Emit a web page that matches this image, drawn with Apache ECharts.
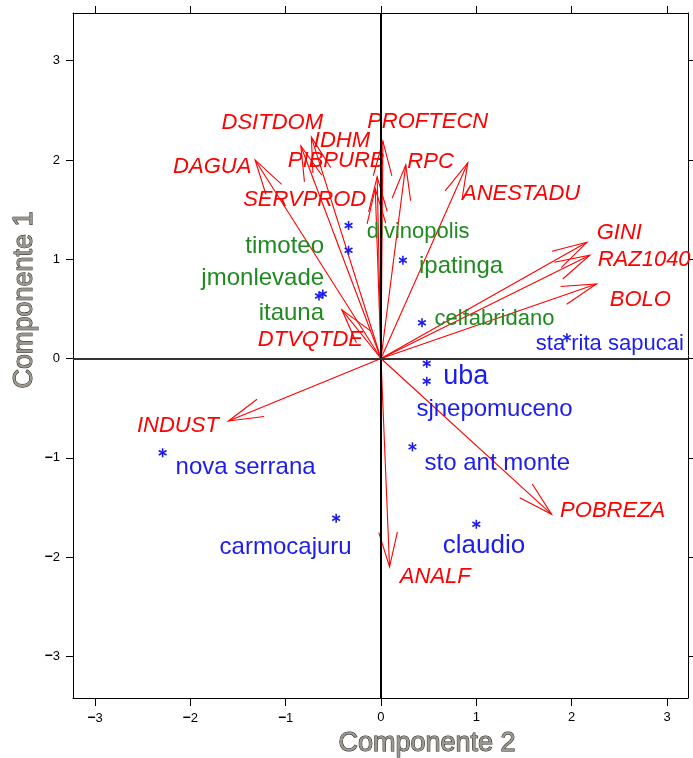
<!DOCTYPE html>
<html><head><meta charset="utf-8">
<script src="https://cdn.jsdelivr.net/npm/echarts@6/dist/echarts.min.js"></script>
<style>html,body{margin:0;padding:0;background:#fff}#c{width:693px;height:758px}</style>
</head><body><div id="c"></div>
<script>
// ---- variables (loadings, red arrows) ----
const varNames  = ['DSITDOM','IDHM','PROFTECN','PIBPURB','SERVPROD','RPC','DAGUA','ANESTADU','GINI','RAZ1040','BOLO','DTVQTDE','INDUST','POBREZA','ANALF'];
const varX      = [-0.84, -0.73, 0.02, -0.04, -0.06, 0.26, -1.32, 0.91, 2.16, 2.19, 2.26, -0.41, -1.60, 1.79, 0.09];
const varY      = [ 2.14,  2.23, 2.19,  1.83,  1.71, 1.95,  2.00, 1.97, 1.17, 1.04, 0.75,  0.49, -0.63, -1.57, -2.10];
const varLabelX = [-1.14, -0.41, 0.49, -0.47, -0.80, 0.52, -1.77, 1.47, 2.50, 2.76, 2.72, -0.74, -2.13, 2.43, 0.57];
const varLabelY = [ 2.37,  2.19, 2.38,  1.99,  1.60, 1.98,  1.93, 1.66, 1.27, 0.99, 0.59,  0.19, -0.68, -1.54, -2.20];

// ---- observations (blue asterisks) ----
const obsX = [-0.34, -0.34, 0.23, -0.65, -0.61, 0.43, 1.95, 0.48, 0.48, 0.33, 1.00, -2.29, -0.47];
const obsY = [ 1.34,  1.09, 0.99,  0.63,  0.65, 0.36, 0.21, -0.05, -0.23, -0.89, -1.67, -0.95, -1.61];

// ---- observation labels ----
const cityNames  = ['divinopolis','timoteo','jmonlevade','itauna','ipatinga','celfabridano','sta rita sapucai','uba','sjnepomuceno','sto ant monte','claudio','nova serrana','carmocajuru'];
const cityLabelX = [0.39, -1.01, -1.24, -0.94, 0.84, 1.19, 2.40, 0.89, 1.19, 1.22, 1.08, -1.42, -1.00];
const cityLabelY = [1.27,  1.13,  0.81,  0.45, 0.93, 0.40, 0.15, -0.18, -0.51, -1.06, -1.89, -1.10, -1.90];
const cityGroup  = ['g','g','g','g','g','g','b','b','b','b','b','b','b'];

const tickValues = [-3, -2, -1, 0, 1, 2, 3];

// ---- styles ----
const FONT = '"Liberation Sans", Arial, Helvetica, sans-serif';
const RED = '#ff0000', BLUE = '#1c1cf0', GREEN = '#1f8a1f';
const citySize = {'divinopolis':22,'celfabridano':22,'sta rita sapucai':22,'uba':27,'claudio':26};

const chart = echarts.init(document.getElementById('c'), null, {renderer:'canvas'});

function fmt(v){ return v < 0 ? '{m|\u2212}{d|' + Math.abs(v) + '}' : '{d|' + v + '}'; }
const labRich = { m:{fontSize:14, fontWeight:'bold', fontFamily:FONT, color:'#000'}, d:{fontSize:13, fontFamily:FONT, color:'#000'} };

function axisCommon(showLabels){
  return {
    type:'value', min:null, max:null,
    axisLine:{show:true, onZero:false, lineStyle:{color:'#000', width:1}},
    axisTick:{show:true, inside:false, length:7, customValues:tickValues, lineStyle:{color:'#000', width:1}},
    axisLabel:{show:showLabels, customValues:tickValues, formatter:fmt, rich:labRich, margin:13},
    splitLine:{show:false}
  };
}
const xMin = -3.23, xMax = 3.22, yMin = -3.42, yMax = 3.48;
const xb = Object.assign(axisCommon(true), {position:'bottom', min:xMin, max:xMax});
const xt = Object.assign(axisCommon(false), {position:'top', min:xMin, max:xMax});
const yl = Object.assign(axisCommon(true), {position:'left', min:yMin, max:yMax});
const yr = Object.assign(axisCommon(false), {position:'right', min:yMin, max:yMax});
xb.axisTick.length = 8;

const arrowData = varX.map((x,i)=>[x, varY[i]]);
const varLabelData = varNames.map((n,i)=>[varLabelX[i], varLabelY[i], n]);
const obsData = obsX.map((x,i)=>[x, obsY[i]]);
const cityData = cityNames.map((n,i)=>[cityLabelX[i], cityLabelY[i], n, cityGroup[i]]);

function renderArrow(params, api){
  const o = api.coord([0,0]);
  const t = api.coord([api.value(0), api.value(1)]);
  const ang = Math.atan2(t[1]-o[1], t[0]-o[0]);
  const L = 36, a = 15*Math.PI/180;
  const h1 = [t[0]-L*Math.cos(ang-a), t[1]-L*Math.sin(ang-a)];
  const h2 = [t[0]-L*Math.cos(ang+a), t[1]-L*Math.sin(ang+a)];
  return {type:'group', children:[
    {type:'line', shape:{x1:o[0],y1:o[1],x2:t[0],y2:t[1]}, style:{stroke:RED, lineWidth:1.1}},
    {type:'polyline', shape:{points:[h1,t,h2]}, style:{stroke:RED, lineWidth:1.1, fill:null}}
  ]};
}
function renderVarLabel(params, api){
  const p = api.coord([api.value(0), api.value(1)]);
  const name = varNames[params.dataIndex];
  return {type:'text', x:p[0], y:p[1], style:{text:name, fill:RED, fontSize:22, fontStyle:'italic', fontFamily:FONT, align:'center', verticalAlign:'middle'}};
}
function renderStar(params, api){
  const c = api.coord([api.value(0), api.value(1)]);
  const r = 4.5, kids = [];
  [90, 30, 150].forEach(deg=>{
    const rad = deg*Math.PI/180, dx = r*Math.cos(rad), dy = r*Math.sin(rad);
    kids.push({type:'line', shape:{x1:c[0]-dx, y1:c[1]-dy, x2:c[0]+dx, y2:c[1]+dy}, style:{stroke:BLUE, lineWidth:1.6}});
  });
  return {type:'group', children:kids};
}
function renderCity(params, api){
  const p = api.coord([api.value(0), api.value(1)]);
  const i = params.dataIndex, name = cityNames[i];
  const size = citySize[name] || 24;
  return {type:'text', x:p[0], y:p[1], style:{text:name, fill: cityGroup[i]==='g' ? GREEN : BLUE, fontSize:size, fontFamily:FONT, align:'center', verticalAlign:'middle'}};
}

chart.setOption({
  backgroundColor:'#fff',
  animation:false,
  grid:{left:73, right:5, top:13, bottom:60, show:false},
  xAxis:[xb, xt],
  yAxis:[yl, yr],
  graphic:[
    {type:'text', x:427, y:744, style:{text:'Componente 2', fontSize:27, fontFamily:FONT, fill:'#9c988f', stroke:'#1a1a1a', lineWidth:1, align:'center', verticalAlign:'middle'}},
    {type:'text', x:25, y:300, rotation:Math.PI/2, style:{text:'Componente 1', fontSize:27, fontFamily:FONT, fill:'#9c988f', stroke:'#1a1a1a', lineWidth:1, align:'center', verticalAlign:'middle'}}
  ],
  series:[
    {type:'scatter', data:[], silent:true, z:5,
     markLine:{silent:true, symbol:['none','none'], label:{show:false},
       data:[{xAxis:0, lineStyle:{color:'#000', width:2, type:'solid'}}, {yAxis:0, lineStyle:{color:'#333', width:2, type:'solid'}}]}},
    {type:'custom', renderItem:renderArrow, data:arrowData, z:3, silent:true, encode:{x:0,y:1}},
    {type:'custom', renderItem:renderVarLabel, data:varLabelData, z:4, silent:true, encode:{x:0,y:1}},
    {type:'custom', renderItem:renderStar, data:obsData, z:4, silent:true, encode:{x:0,y:1}},
    {type:'custom', renderItem:renderCity, data:cityData, z:4, silent:true, encode:{x:0,y:1}}
  ]
});
</script></body></html>
